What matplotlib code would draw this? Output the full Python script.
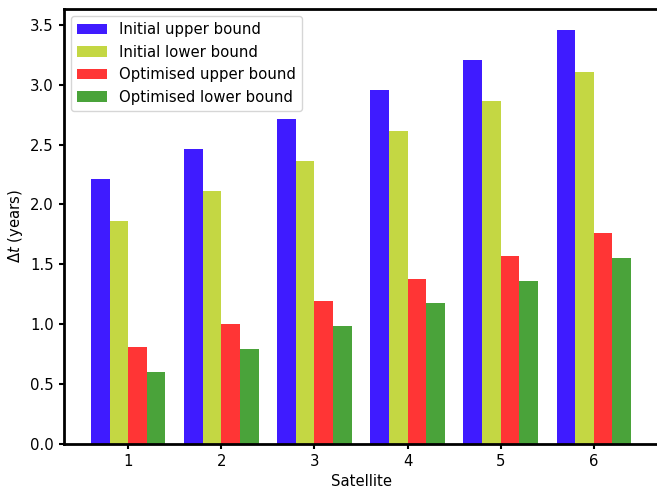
import matplotlib
matplotlib.use('Agg')
import matplotlib.pyplot as plt
import numpy as np

satellites = [1, 2, 3, 4, 5, 6]
initial_upper = [2.21, 2.46, 2.71, 2.96, 3.21, 3.46]
initial_lower = [1.86, 2.11, 2.36, 2.61, 2.86, 3.11]
optimised_upper = [0.81, 1.00, 1.19, 1.38, 1.57, 1.76]
optimised_lower = [0.60, 0.79, 0.98, 1.175, 1.36, 1.55]

labels = ['Initial upper bound', 'Initial lower bound',
          'Optimised upper bound', 'Optimised lower bound']
colors = ['#3f1bff', '#c4d743', '#ff3535', '#4aa33a']

plt.rcParams['font.size'] = 10.7

fig = plt.figure(figsize=(6.57, 4.91), dpi=100)
ax = fig.add_axes([64 / 657, 47.3 / 491, 594 / 657, 434.7 / 491])

x = np.array(satellites)
w = 0.2
series = [initial_upper, initial_lower, optimised_upper, optimised_lower]
for k, (vals, lab, col) in enumerate(zip(series, labels, colors)):
    ax.bar(x + (k - 2) * w, vals, w, align='edge', color=col, label=lab)

ax.set_xticks(x)
ax.set_xlabel('Satellite')
ax.set_ylabel(r'$\Delta t$ (years)')
ax.legend(loc='upper left')

for s in ['left', 'bottom', 'top']:
    ax.spines[s].set_linewidth(2)
ax.spines['right'].set_visible(False)
ax.tick_params(width=1.5, length=3.7)

plt.savefig('out.png', dpi=100)
